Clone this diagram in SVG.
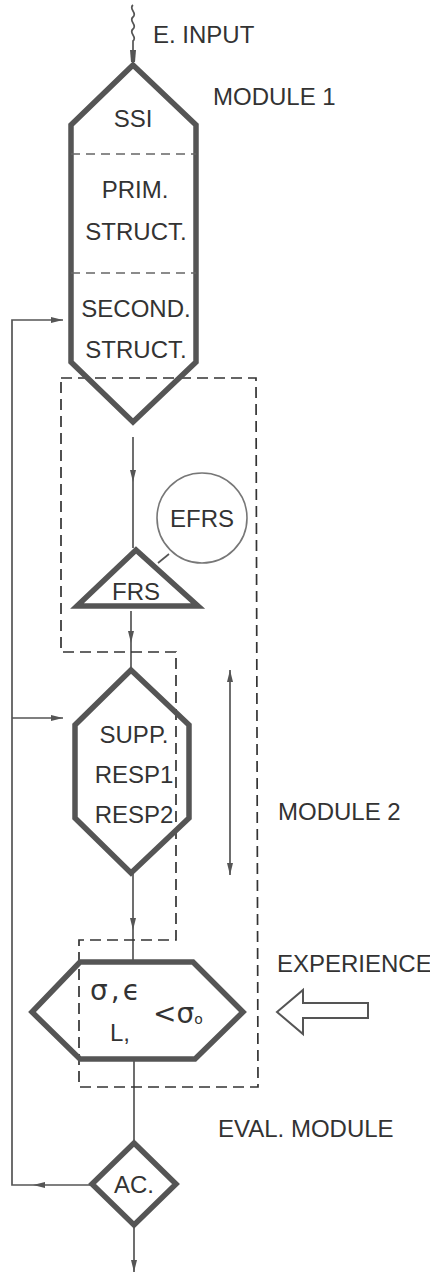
<svg xmlns="http://www.w3.org/2000/svg" width="430" height="1276" viewBox="0 0 430 1276">
<style>
.thick{fill:none;stroke:#555;stroke-width:5.5;stroke-linejoin:miter}
.thin{fill:none;stroke:#555;stroke-width:1.7}
.sep{fill:none;stroke:#666;stroke-width:1.5;stroke-dasharray:9 6}
.dash{fill:none;stroke:#333;stroke-width:1.7;stroke-dasharray:11 6}
.t{font-family:"Liberation Sans",Arial,sans-serif;font-size:24px;fill:#333}
.g{font-family:"DejaVu Sans",sans-serif;font-size:28px;fill:#333}
.c{text-anchor:middle}
</style>
<defs>
<marker id="ah" viewBox="0 0 12 6" refX="12" refY="3" markerWidth="12" markerHeight="6" markerUnits="userSpaceOnUse" orient="auto-start-reverse">
<path d="M0,0 L12,3 L0,6 Z" fill="#555"/>
</marker>
</defs>
<rect width="430" height="1276" fill="#fff"/>

<g id="connectors">
<path class="thin" d="M133,5 c-5,4 5,8 0,12 c-5,4 5,8 0,12 c-5,4 5,8 0,12 L133,52"/>
<path d="M130,50 L136,50 L135,62 L131,62 Z" fill="#555"/>
<path class="thin" d="M133,437 L133,482" marker-end="url(#ah)"/>
<path class="thin" d="M133,482 L133,548"/>
<path class="thin" d="M158,563 L169,554"/>
<path class="thin" d="M131,611 L131,643" marker-end="url(#ah)"/>
<path class="thin" d="M131,643 L131,670"/>
<path class="thin" d="M133,873 L133,930" marker-end="url(#ah)"/>
<path class="thin" d="M133,930 L133,962"/>
<path class="thin" d="M134,1059 L134,1143"/>
<path class="thin" d="M134,1225 L134,1272" marker-end="url(#ah)"/>
<path class="thin" d="M92,1185 L33,1185" marker-end="url(#ah)"/>
<path class="thin" d="M33,1185 L12,1185 L12,320 L63,320" marker-end="url(#ah)"/>
<path class="thin" d="M12,718 L63,718" marker-end="url(#ah)"/>
<path class="thin" d="M230,875 L230,670" marker-start="url(#ah)" marker-end="url(#ah)"/>
<path d="M277,1012 L303,990 L303,1003 L368,1003 L368,1018 L303,1018 L303,1034 Z" fill="#fff" stroke="#555" stroke-width="2"/>
</g>

<g id="module-boundary">
<path class="dash" d="M61,378 L256,378 L258,1087 L79,1087 L79,940 L176,940 L176,652 L61,652 Z"/>
</g>

<g id="labels">
<text class="t" x="153" y="43">E. INPUT</text>
<text class="t" x="213" y="105" font-size="20.5">MODULE 1</text>
<text class="t" x="278" y="820" font-size="20">MODULE 2</text>
<text class="t" x="277" y="972" font-size="21.5">EXPERIENCE</text>
<text class="t" x="218" y="1137" font-size="21">EVAL. MODULE</text>
</g>

<g id="module1">
<path class="thick" d="M133,65 L71,125 L71,362 L133,422 L196,362 L196,125 Z"/>
<path class="sep" d="M71,154 L196,154 M71,273 L196,273"/>
<text class="t c" x="133" y="127">SSI</text>
<text class="t c" x="135" y="198">PRIM.</text>
<text class="t c" x="136" y="240">STRUCT.</text>
<text class="t c" x="136" y="317">SECOND.</text>
<text class="t c" x="136" y="358">STRUCT.</text>
</g>

<g id="efrs">
<circle cx="202" cy="518" r="45" fill="none" stroke="#777" stroke-width="1.6"/>
<text class="t c" x="202" y="527">EFRS</text>
</g>

<g id="frs">
<path class="thick" d="M136,550 L77,606 L198,606 Z"/>
<text class="t c" x="136" y="600" font-size="22">FRS</text>
</g>

<g id="supp">
<path class="thick" d="M131,670 L75,725 L75,818 L131,873 L189,818 L189,725 Z"/>
<text class="t c" x="134" y="743">SUPP.</text>
<text class="t c" x="134" y="783">RESP1</text>
<text class="t c" x="134" y="823">RESP2</text>
</g>

<g id="eval">
<path class="thick" d="M80,962 L193,962 L243,1012 L195,1059 L80,1059 L32,1012 Z"/>
<text class="g" x="90" y="1000" letter-spacing="3">σ,ϵ</text>
<text class="t" x="110" y="1041">L,</text>
<text class="g" x="153" y="1023">&lt;σ<tspan font-size="14" dy="1">o</tspan></text>
</g>

<g id="ac">
<path class="thick" d="M134,1143 L176,1184 L134,1225 L92,1184 Z"/>
<text class="t c" x="134" y="1193">AC.</text>
</g>
</svg>
